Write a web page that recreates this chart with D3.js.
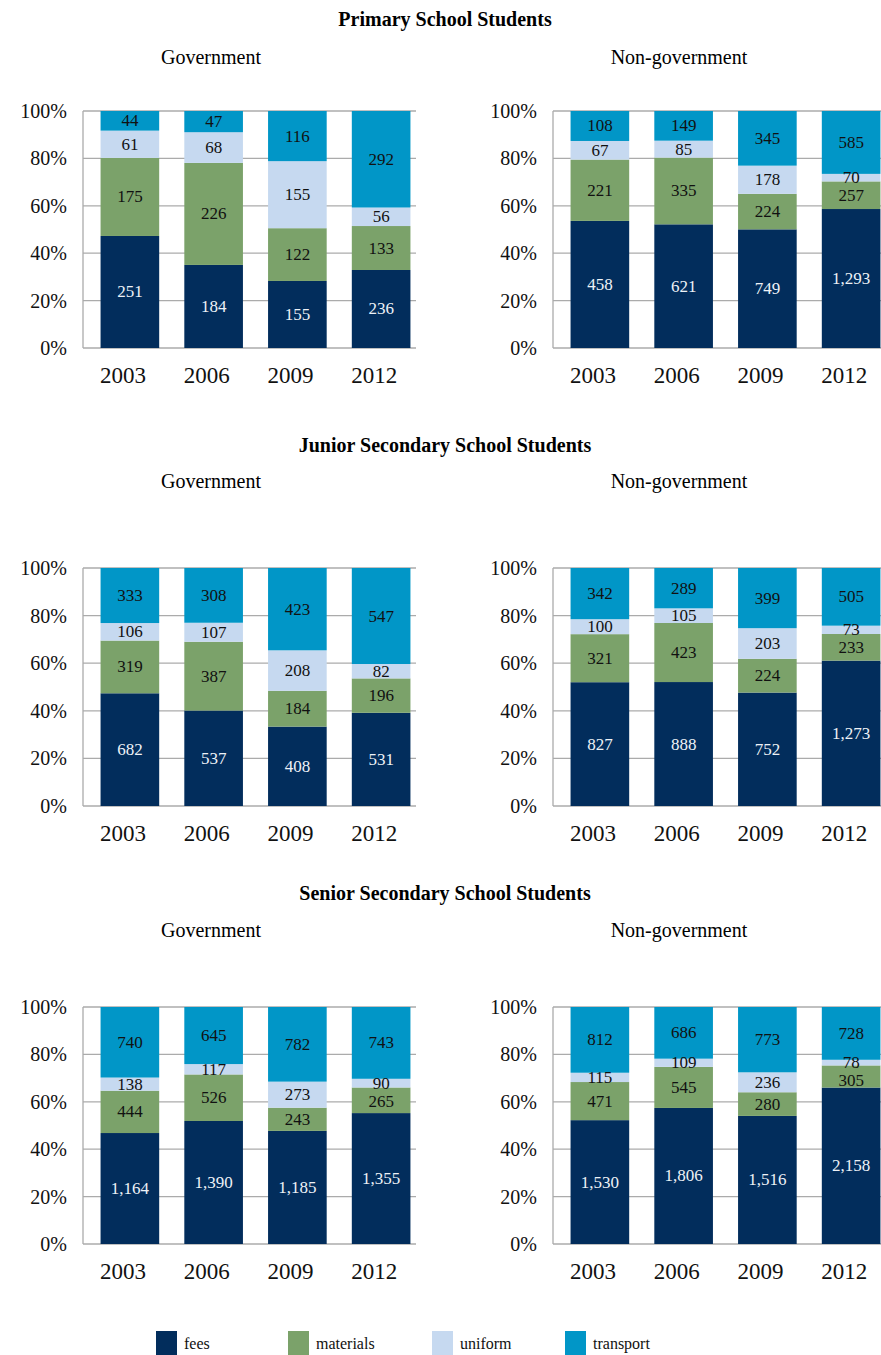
<!DOCTYPE html>
<html>
<head>
<meta charset="utf-8">
<script src="https://cdn.jsdelivr.net/npm/d3@7"></script>
<style>
  html, body { margin: 0; padding: 0; background: #fff; }
  svg { display: block; font-family: "Liberation Serif", "Times New Roman", serif; }
</style>
</head>
<body>
<svg id="chart" width="881" height="1355"></svg>
<script>
// Survey years and cost components
const years = ["2003", "2006", "2009", "2012"];
const components = ["fees", "materials", "uniform", "transport"];
const componentColors = ["#022d5c", "#7ba26a", "#c6d9f0", "#0196c7"];
const yTicks = [0, 0.2, 0.4, 0.6, 0.8, 1.0];

const sections = ["Primary School Students", "Junior Secondary School Students", "Senior Secondary School Students"];
const sectors = ["Government", "Non-government"];

// Average annual spending per student ($), by component
const primaryGovFees      = [251, 184, 155, 236];
const primaryGovMaterials = [175, 226, 122, 133];
const primaryGovUniform   = [61, 68, 155, 56];
const primaryGovTransport = [44, 47, 116, 292];

const primaryNonFees      = [458, 621, 749, 1293];
const primaryNonMaterials = [221, 335, 224, 257];
const primaryNonUniform   = [67, 85, 178, 70];
const primaryNonTransport = [108, 149, 345, 585];

const juniorGovFees      = [682, 537, 408, 531];
const juniorGovMaterials = [319, 387, 184, 196];
const juniorGovUniform   = [106, 107, 208, 82];
const juniorGovTransport = [333, 308, 423, 547];

const juniorNonFees      = [827, 888, 752, 1273];
const juniorNonMaterials = [321, 423, 224, 233];
const juniorNonUniform   = [100, 105, 203, 73];
const juniorNonTransport = [342, 289, 399, 505];

const seniorGovFees      = [1164, 1390, 1185, 1355];
const seniorGovMaterials = [444, 526, 243, 265];
const seniorGovUniform   = [138, 117, 273, 90];
const seniorGovTransport = [740, 645, 782, 743];

const seniorNonFees      = [1530, 1806, 1516, 2158];
const seniorNonMaterials = [471, 545, 280, 305];
const seniorNonUniform   = [115, 109, 236, 78];
const seniorNonTransport = [812, 686, 773, 728];

const panelSeries = [
  [[primaryGovFees, primaryGovMaterials, primaryGovUniform, primaryGovTransport],
   [primaryNonFees, primaryNonMaterials, primaryNonUniform, primaryNonTransport]],
  [[juniorGovFees, juniorGovMaterials, juniorGovUniform, juniorGovTransport],
   [juniorNonFees, juniorNonMaterials, juniorNonUniform, juniorNonTransport]],
  [[seniorGovFees, seniorGovMaterials, seniorGovUniform, seniorGovTransport],
   [seniorNonFees, seniorNonMaterials, seniorNonUniform, seniorNonTransport]]
];

const svg = d3.select("#chart");
const fmt = d3.format(",");
const color = d3.scaleOrdinal().domain(components).range(componentColors);

// Layout of each row of panels
const rowLayout = [
  { title: 19, sub: 57, top: 111, bottom: 348 },
  { title: 445, sub: 481, top: 568, bottom: 806 },
  { title: 893, sub: 930, top: 1007, bottom: 1244 }
];
const colOffset = [0, 470];
const axisX = 83, gridEnd = 416;
const subCenter = [211, 679];
const labelGap = 18;

sections.forEach((title, r) => {
  const L = rowLayout[r];
  svg.append("text")
    .attr("x", 445).attr("y", L.title)
    .attr("text-anchor", "middle").attr("dominant-baseline", "central")
    .attr("font-weight", "bold").attr("font-size", 20)
    .text(title);

  sectors.forEach((sector, c) => {
    const ox = colOffset[c];
    svg.append("text")
      .attr("x", subCenter[c]).attr("y", L.sub)
      .attr("text-anchor", "middle").attr("dominant-baseline", "central")
      .attr("font-size", 20)
      .text(sector);

    const g = svg.append("g").attr("transform", `translate(${ox},0)`);

    const x = d3.scaleBand().domain(years).range([88, 423]).paddingInner(0.3).paddingOuter(0.15);
    const y = d3.scaleLinear().domain([0, 1]).range([L.bottom, L.top]);

    // gridlines
    g.append("g").selectAll("line").data(yTicks).join("line")
      .attr("x1", axisX).attr("x2", gridEnd)
      .attr("y1", d => y(d)).attr("y2", d => y(d))
      .attr("stroke", "#ababab").attr("stroke-width", 1.3);
    g.append("line")
      .attr("x1", axisX).attr("x2", axisX)
      .attr("y1", y(1)).attr("y2", y(0))
      .attr("stroke", "#ababab").attr("stroke-width", 1.3);

    // y axis labels
    const yAxis = d3.axisLeft(y).tickValues(yTicks).tickFormat(d3.format(".0%")).tickSize(0).tickPadding(16);
    const ya = g.append("g").attr("transform", `translate(${axisX},0)`).call(yAxis);
    ya.select(".domain").remove();
    ya.selectAll("text").attr("font-size", 20).attr("font-family", "Liberation Serif, serif").attr("fill", "#111");

    // stacked shares
    const series = panelSeries[r][c];
    const rows = years.map((yr, i) => {
      const o = { year: yr };
      components.forEach((k, j) => o[k] = series[j][i]);
      return o;
    });
    const stacked = d3.stack().keys(components).offset(d3.stackOffsetExpand)(rows);

    const layer = g.append("g").selectAll("g").data(stacked).join("g")
      .attr("fill", d => color(d.key));
    layer.selectAll("rect").data(d => d).join("rect")
      .attr("x", d => x(d.data.year))
      .attr("width", x.bandwidth())
      .attr("y", d => y(d[1]))
      .attr("height", d => y(d[0]) - y(d[1]));

    // value labels: centred in each segment, lower labels pushed down
    // where a thin segment above would make them collide
    const labels = [];
    years.forEach((yr, i) => {
      const pos = stacked.map(s => ({
        key: s.key, year: yr, value: s[i].data[s.key],
        cy: (y(s[i][0]) + y(s[i][1])) / 2
      }));
      for (let k = pos.length - 2; k >= 0; k--) {
        if (pos[k].cy - pos[k + 1].cy < labelGap) pos[k].cy = pos[k + 1].cy + labelGap;
      }
      labels.push(...pos);
    });
    g.append("g").selectAll("text").data(labels).join("text")
      .attr("x", d => x(d.year) + x.bandwidth() / 2)
      .attr("y", d => d.cy)
      .attr("text-anchor", "middle").attr("dominant-baseline", "central")
      .attr("font-size", 17)
      .attr("fill", d => d.key === "fees" ? "#eef2f7" : "#111")
      .text(d => fmt(d.value));

    // x axis labels
    const xAxis = d3.axisBottom(x).tickSize(0).tickPadding(0);
    const xa = g.append("g").attr("transform", `translate(-7,${L.bottom + 28})`).call(xAxis);
    xa.select(".domain").remove();
    xa.selectAll("text").attr("font-size", 23).attr("font-family", "Liberation Serif, serif")
      .attr("fill", "#111").attr("dy", "0.32em").attr("y", 0);
  });
});

// legend
const legendX = [156, 288, 432, 565];
const lg = svg.append("g").selectAll("g").data(components).join("g")
  .attr("transform", (d, i) => `translate(${legendX[i]},1331)`);
lg.append("rect").attr("width", 21).attr("height", 24).attr("fill", d => color(d));
lg.append("text").attr("x", 28).attr("y", 12)
  .attr("dominant-baseline", "central").attr("font-size", 16).attr("fill", "#111")
  .text(d => d);
</script>
</body>
</html>
